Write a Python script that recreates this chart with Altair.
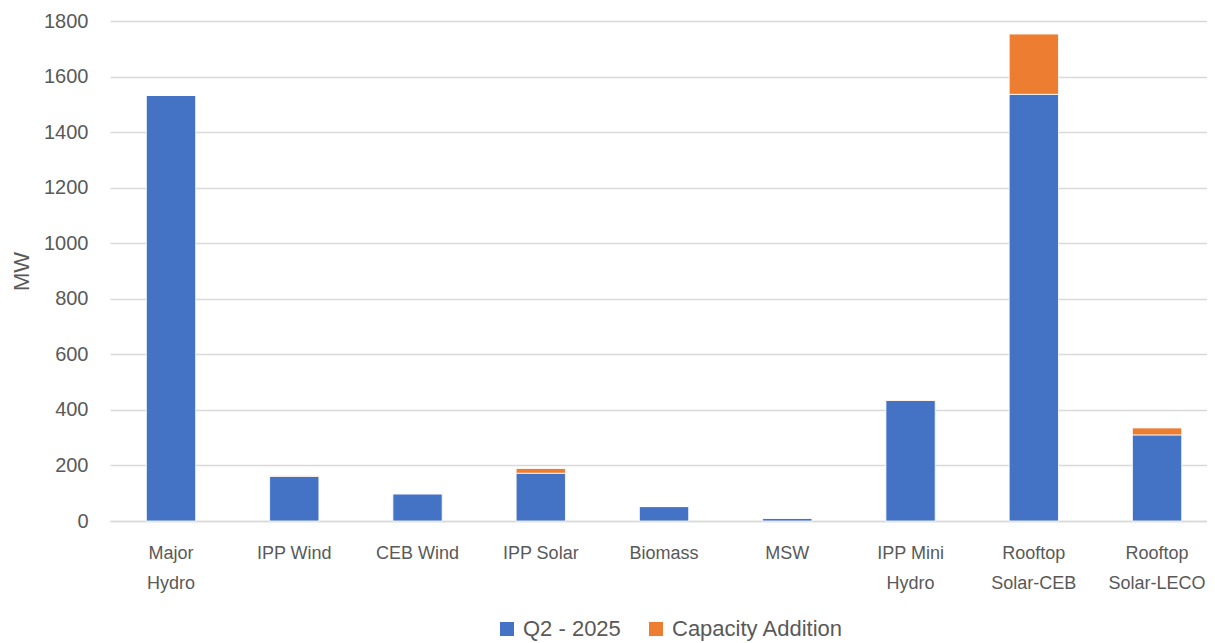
import altair as alt
import pandas as pd

categories = ["Major\nHydro", "IPP Wind", "CEB Wind", "IPP Solar", "Biomass", "MSW",
              "IPP Mini\nHydro", "Rooftop\nSolar-CEB", "Rooftop\nSolar-LECO"]
q2_2025 = [1532, 161, 98, 172, 52, 10, 434, 1536, 310]
capacity_addition = [0, 2, 0, 17, 0, 0, 2, 217, 25]
series_names = ["Q2 - 2025", "Capacity Addition"]
colors = ["#4472C4", "#ED7D31"]

rows = []
for c, a, b in zip(categories, q2_2025, capacity_addition):
    rows.append({"cat": c, "series": series_names[0], "value": a, "order": 0})
    rows.append({"cat": c, "series": series_names[1], "value": b, "order": 1})
df = pd.DataFrame(rows)

font = "Liberation Sans"

chart = alt.Chart(df).mark_bar(stroke="white", strokeWidth=0.8).encode(
    x=alt.X("cat:N", sort=categories, title=None,
            scale=alt.Scale(paddingInner=0.6, paddingOuter=0.25, align=0.59, round=False),
            axis=alt.Axis(labelAngle=0, labelExpr="split(datum.label, '\\n')",
                          labelFont=font, labelFontSize=18, labelColor="#595959",
                          labelLineHeight=30, labelPadding=23, ticks=False,
                          domainColor="#D9D9D9", domainWidth=1.5, grid=False,
                          labelBaseline="top", labelBound=False, labelOverlap=False)),
    y=alt.Y("value:Q", stack="zero", title="MW",
            scale=alt.Scale(domain=[0, 1800], nice=False),
            axis=alt.Axis(values=list(range(0, 1801, 200)), format="d", labelFont=font,
                          labelFontSize=20, labelColor="#595959", labelPadding=22,
                          ticks=False, domain=False, gridColor="#D9D9D9",
                          gridWidth=1.5, titleFont=font, titleFontSize=22,
                          titleColor="#595959", titleFontWeight="normal",
                          titlePadding=10)),
    color=alt.Color("series:N", sort=series_names,
                    scale=alt.Scale(domain=series_names, range=colors),
                    legend=alt.Legend(title=None, orient="none", direction="horizontal",
                                      legendX=386, legendY=597,
                                      symbolType="square", symbolSize=196,
                                      symbolStrokeWidth=0, labelFont=font,
                                      labelFontSize=22, labelColor="#595959",
                                      labelLimit=400, labelOffset=5, columnPadding=24)),
    order=alt.Order("order:Q"),
).properties(
    width=1097, height=500,
    autosize=alt.AutoSizeParams(type="none"),
    padding={"left": 102, "top": 13, "right": 0, "bottom": 122},
).configure_view(stroke=None)

chart.save("out.html", embed_options={"renderer": "svg", "actions": False})
